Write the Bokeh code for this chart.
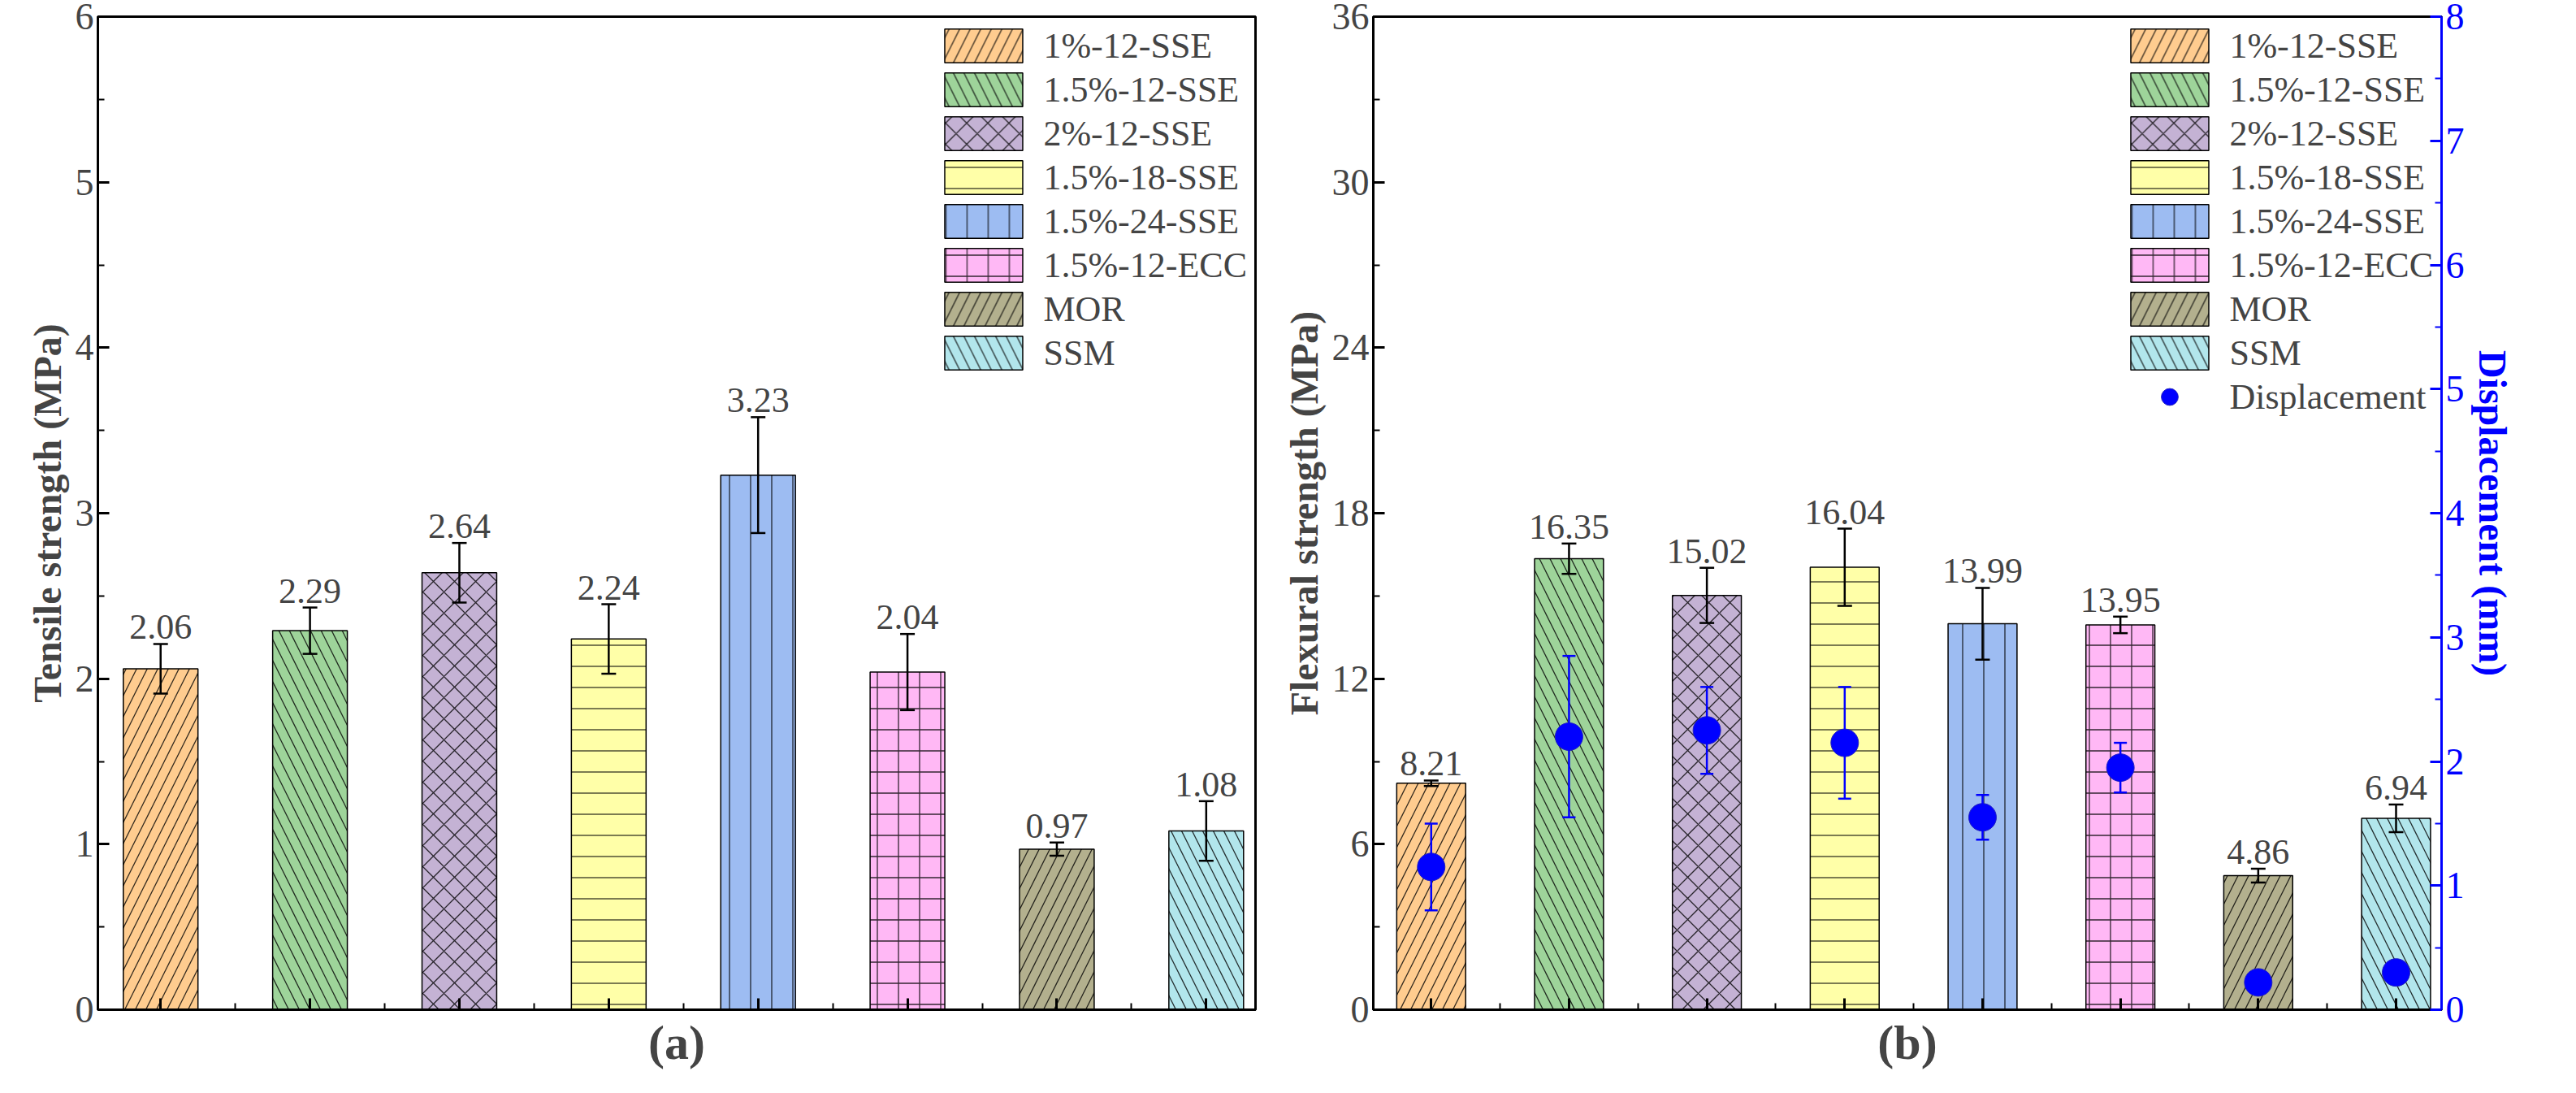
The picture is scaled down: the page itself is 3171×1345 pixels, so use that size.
from bokeh.plotting import figure
from bokeh.layouts import row
from bokeh.models import (ColumnDataSource, Whisker, LinearAxis, Range1d, Legend, LegendItem,
                          FixedTicker, Title, LabelSet)
from bokeh.embed import file_html
from bokeh.resources import INLINE

names = ["1%-12-SSE", "1.5%-12-SSE", "2%-12-SSE", "1.5%-18-SSE", "1.5%-24-SSE", "1.5%-12-ECC", "MOR", "SSM"]
colors = ["#FFCC8F", "#9ED49A", "#C4B2D4", "#FFFFA8", "#9DBCF2", "#FFB8F5", "#B3B08E", "#B2E6EC"]
hatches = ["/", "\\", "x", "-", "|", "+", "/", "\\"]
tensile = [2.06, 2.29, 2.64, 2.24, 3.23, 2.04, 0.97, 1.08]
tensile_err = [0.15, 0.14, 0.18, 0.21, 0.35, 0.23, 0.04, 0.18]
flexural = [8.21, 16.35, 15.02, 16.04, 13.99, 13.95, 4.86, 6.94]
flexural_err = [0.1, 0.55, 1.0, 1.4, 1.3, 0.3, 0.25, 0.5]
disp = [1.15, 2.2, 2.25, 2.15, 1.55, 1.95, 0.22, 0.3]
disp_err = [0.35, 0.65, 0.35, 0.45, 0.18, 0.2, 0.0, 0.0]

FONT = "Liberation Serif"
xs = list(range(1, 9))

def style_axis(ax):
    ax.major_label_text_font = FONT; ax.major_label_text_font_size = "46px"
    ax.axis_label_text_font = FONT; ax.axis_label_text_font_style = "bold"
    ax.axis_label_text_font_size = "48px"
    ax.axis_line_width = 3; ax.major_tick_line_width = 3; ax.minor_tick_line_width = 2
    ax.major_tick_in = 14; ax.major_tick_out = 0; ax.minor_tick_in = 8; ax.minor_tick_out = 0

def make(values, errs, ymax, yticks, ylabel, title, W, H, right=False):
    p = figure(width=W, height=H, x_range=Range1d(0.58, 8.33), y_range=Range1d(0, ymax),
               output_backend="svg", toolbar_location=None, min_border_left=120,
               min_border_right=(150 if right else 25), min_border_top=20)
    p.grid.visible = False
    p.outline_line_color = "black"; p.outline_line_width = 3
    src = ColumnDataSource(dict(x=xs, lo=[v - e for v, e in zip(values, errs)],
                                hi=[v + e for v, e in zip(values, errs)]))
    items = []
    for i in range(8):
        r = p.vbar(x=[xs[i]], top=[values[i]], width=0.5, fill_color=colors[i], line_color="black",
                   line_width=1.5, hatch_pattern=hatches[i], hatch_color="black", hatch_alpha=0.8,
                   hatch_scale=26, hatch_weight=1.3)
        items.append(LegendItem(label=names[i], renderers=[r]))
    w = Whisker(source=src, base="x", lower="lo", upper="hi", line_color="black", line_width=2.5,
                level="overlay")
    w.upper_head.size = 18; w.lower_head.size = 18
    w.upper_head.line_width = 2.5; w.lower_head.line_width = 2.5
    p.add_layout(w)
    src2 = ColumnDataSource(dict(x=xs, y=[v + e for v, e in zip(values, errs)], lab=[f"{v:.2f}" for v in values]))
    p.add_layout(LabelSet(source=src2, x="x", y="y", text="lab", text_align="center", y_offset=6,
                          text_font=FONT, text_font_size="44px"))
    p.yaxis.ticker = FixedTicker(ticks=yticks, minor_ticks=[yticks[0] + (yticks[1]-yticks[0]) * (k + 0.5) for k in range(len(yticks) - 1)])
    p.yaxis.axis_label = ylabel
    style_axis(p.xaxis[0]); style_axis(p.yaxis[0])
    p.xaxis.ticker = FixedTicker(ticks=xs, minor_ticks=[x + 0.5 for x in range(0, 9)])
    p.xaxis.major_label_text_font_size = "0px"
    leg = Legend(items=items, location="top_right", label_text_font=FONT, label_text_font_size="44px",
                 glyph_width=120, glyph_height=52, spacing=2, border_line_color=None,
                 background_fill_alpha=0, margin=10, padding=4, label_standoff=14, label_height=52)
    p.add_layout(leg)
    t = Title(text=title, align="center", text_font=FONT, text_font_size="60px", text_font_style="bold")
    p.add_layout(t, "below")
    return p, leg

pa, _ = make(tensile, tensile_err, 6, [0, 1, 2, 3, 4, 5, 6], "Tensile strength (MPa)", "(a)", 1570, 1320)
pb, legb = make(flexural, flexural_err, 36, [0, 6, 12, 18, 24, 30, 36], "Flexural strength (MPa)", "(b)", 1585, 1320, right=True)

pb.extra_y_ranges = {"d": Range1d(0, 8)}
ax2 = LinearAxis(y_range_name="d", axis_label="Displacement (mm)",
                 ticker=FixedTicker(ticks=list(range(9)), minor_ticks=[k + 0.5 for k in range(8)]))
style_axis(ax2)
for attr in ["axis_line_color", "major_tick_line_color", "minor_tick_line_color", "major_label_text_color", "axis_label_text_color"]:
    setattr(ax2, attr, "blue")
pb.add_layout(ax2, "right")

dsrc = ColumnDataSource(dict(x=xs, y=disp, lo=[d - e for d, e in zip(disp, disp_err)],
                             hi=[d + e for d, e in zip(disp, disp_err)]))
wd = Whisker(source=dsrc, base="x", lower="lo", upper="hi", line_color="blue", line_width=2.5,
             y_range_name="d", level="overlay")
wd.upper_head.line_color = "blue"; wd.lower_head.line_color = "blue"
wd.upper_head.size = 16; wd.lower_head.size = 16
wd.upper_head.line_width = 2.5; wd.lower_head.line_width = 2.5
pb.add_layout(wd)
sc = pb.scatter("x", "y", source=dsrc, y_range_name="d", size=34, fill_color="blue", line_color="#2020c0",
                level="overlay")
legb.items.append(LegendItem(label="Displacement", renderers=[sc]))

out = row(pa, pb)
open("out.html", "w").write(file_html(out, INLINE))
